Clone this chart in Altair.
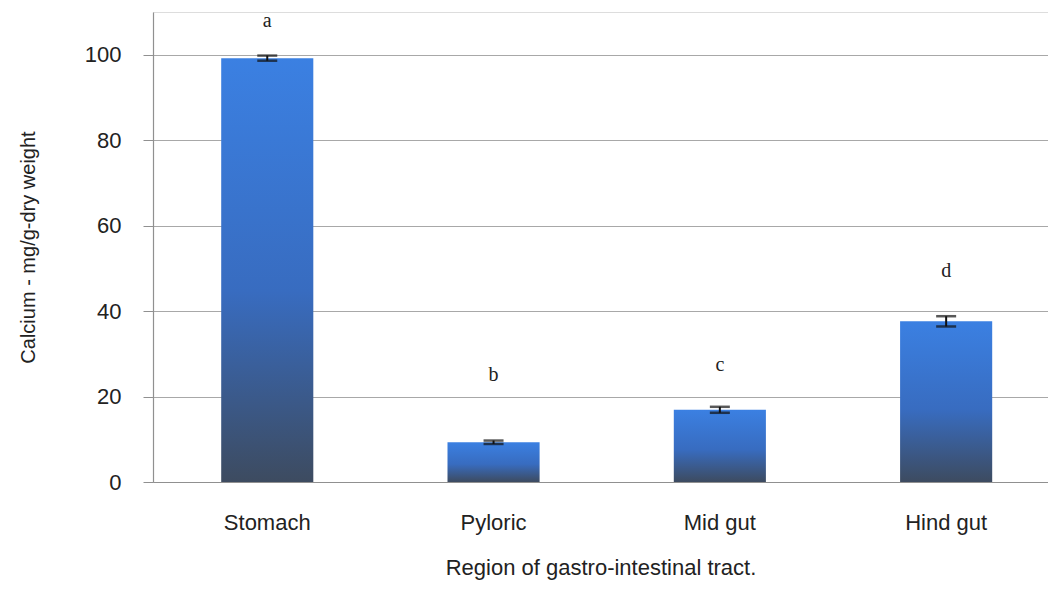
import altair as alt
import pandas as pd

regions = ["Stomach", "Pyloric", "Mid gut", "Hind gut"]
means = [99.2, 9.3, 16.9, 37.6]
errors = [0.6, 0.4, 0.7, 1.2]
letters = ["a", "b", "c", "d"]
letter_heights = [108.0, 25.0, 27.3, 49.5]

df = pd.DataFrame({
    "region": regions,
    "mean": means,
    "err": errors,
    "letter": letters,
    "ly": letter_heights,
})
df["lo"] = df["mean"] - df["err"]
df["hi"] = df["mean"] + df["err"]

xscale = alt.Scale(paddingInner=0.593, paddingOuter=0.274, align=0.55)
x = alt.X(
    "region:N", sort=regions, scale=xscale,
    axis=alt.Axis(
        title="Region of gastro-intestinal tract.",
        labelAngle=0, labelFont="Liberation Sans", labelFontSize=22,
        labelColor="#222", labelPadding=30, ticks=False,
        domainColor="#909090", domainWidth=1.2,
        titleFont="Liberation Sans", titleFontSize=22, titleFontWeight="normal",
        titleColor="#222", titlePadding=24,
    ),
)
yscale = alt.Scale(domain=[0, 110], nice=False)
yaxis = alt.Axis(
    title="Calcium - mg/g-dry weight",
    values=[0, 20, 40, 60, 80, 100],
    labelFont="Liberation Sans", labelFontSize=22, labelColor="#222",
    labelPadding=22, tickSize=10, tickColor="#909090",
    domainColor="#909090", domainWidth=1.2,
    gridColor="#a8a8a8", gridWidth=1,
    titleFont="Liberation Sans", titleFontSize=20, titleFontWeight="normal",
    titleColor="#222", titlePadding=46,
)

grad = alt.Gradient(
    gradient="linear",
    stops=[
        alt.GradientStop(offset=0, color="#3b80e2"),
        alt.GradientStop(offset=0.55, color="#386cc0"),
        alt.GradientStop(offset=1, color="#3d4b60"),
    ],
    x1=0, x2=0, y1=0, y2=1,
)

bars = alt.Chart(df).mark_bar(color=grad).encode(
    x=x,
    y=alt.Y("mean:Q", scale=yscale, axis=yaxis),
)
rule = alt.Chart(df).mark_rule(color="#111", strokeWidth=2).encode(
    x=alt.X("region:N", sort=regions), y="lo:Q", y2="hi:Q"
)
cap_lo = alt.Chart(df).mark_tick(color="#111", thickness=2.5, size=20).encode(
    x=alt.X("region:N", sort=regions), y="lo:Q"
)
cap_hi = alt.Chart(df).mark_tick(color="#111", thickness=2.5, size=20).encode(
    x=alt.X("region:N", sort=regions), y="hi:Q"
)
text = alt.Chart(df).mark_text(
    font="Liberation Serif", fontSize=20, color="#222", baseline="middle"
).encode(
    x=alt.X("region:N", sort=regions), y="ly:Q", text="letter:N"
)

chart = alt.layer(bars, rule, cap_lo, cap_hi, text).properties(
    width=895, height=470,
    padding={"left": 145, "top": 4, "right": 0, "bottom": 103},
    autosize=alt.AutoSizeParams(type="none"),
).configure_view(stroke=None).configure(background="white")

chart.save("out.html", embed_options={"renderer": "svg", "actions": False})
